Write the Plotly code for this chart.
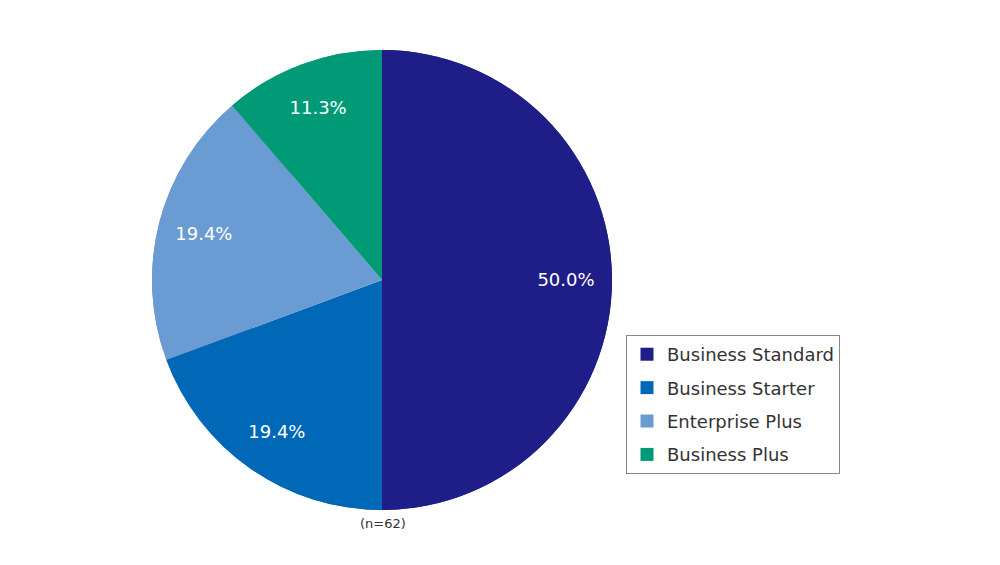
import plotly.graph_objects as go

plans = ["Business Standard", "Business Starter", "Enterprise Plus", "Business Plus"]
counts = [31, 12, 12, 7]
colors = ["#1F1D87", "#0068B7", "#6A9BD2", "#009B76"]
n_total = 62

FONT = "DejaVu Sans"

# page body adds an 8px margin, so domains are shifted up/left by 8px
pie_domain = dict(x=[0.144, 0.604], y=[0.1115, 0.9257])

fig = go.Figure()

# full pie underneath (colour only)
fig.add_trace(go.Pie(
    labels=plans, values=counts, sort=False, direction="clockwise", rotation=0,
    marker=dict(colors=colors, line=dict(color="white", width=0)),
    textinfo="none", showlegend=False, hoverinfo="skip",
    domain=pie_domain,
))

# ring on top carries the labels so they sit further out from the centre
fig.add_trace(go.Pie(
    labels=plans, values=counts, sort=False, direction="clockwise", rotation=0,
    hole=0.6,
    marker=dict(colors=colors, line=dict(width=0)),
    texttemplate="%{percent:.1%}",
    textposition="inside",
    insidetextorientation="horizontal",
    textfont=dict(color="white", size=18, family=FONT),
    hoverinfo="label+value+percent",
    showlegend=False,
    domain=pie_domain,
))

# legend entries (own groups so the gap between rows can be set)
for name, col in zip(plans, colors):
    fig.add_trace(go.Scatter(
        x=[None], y=[None], mode="markers", name=name,
        marker=dict(symbol="square", size=13, color=col),
        legendgroup=name, hoverinfo="skip",
    ))

fig.add_annotation(
    text=f"(n={n_total})", x=0.375, y=0.071, xref="paper", yref="paper",
    showarrow=False, font=dict(size=13, color="#333333", family=FONT),
)

fig.update_layout(
    width=1000, height=565,
    margin=dict(l=0, r=0, t=0, b=0),
    paper_bgcolor="white",
    plot_bgcolor="white",
    xaxis=dict(visible=False),
    yaxis=dict(visible=False),
    legend=dict(
        x=0.618, y=0.4212, xanchor="left", yanchor="top",
        bordercolor="#888888", borderwidth=1,
        font=dict(size=18, color="#333333", family=FONT),
        itemwidth=30, tracegroupgap=7,
        entrywidth=215, entrywidthmode="pixels",
    ),
)

fig.write_html("out.html")
